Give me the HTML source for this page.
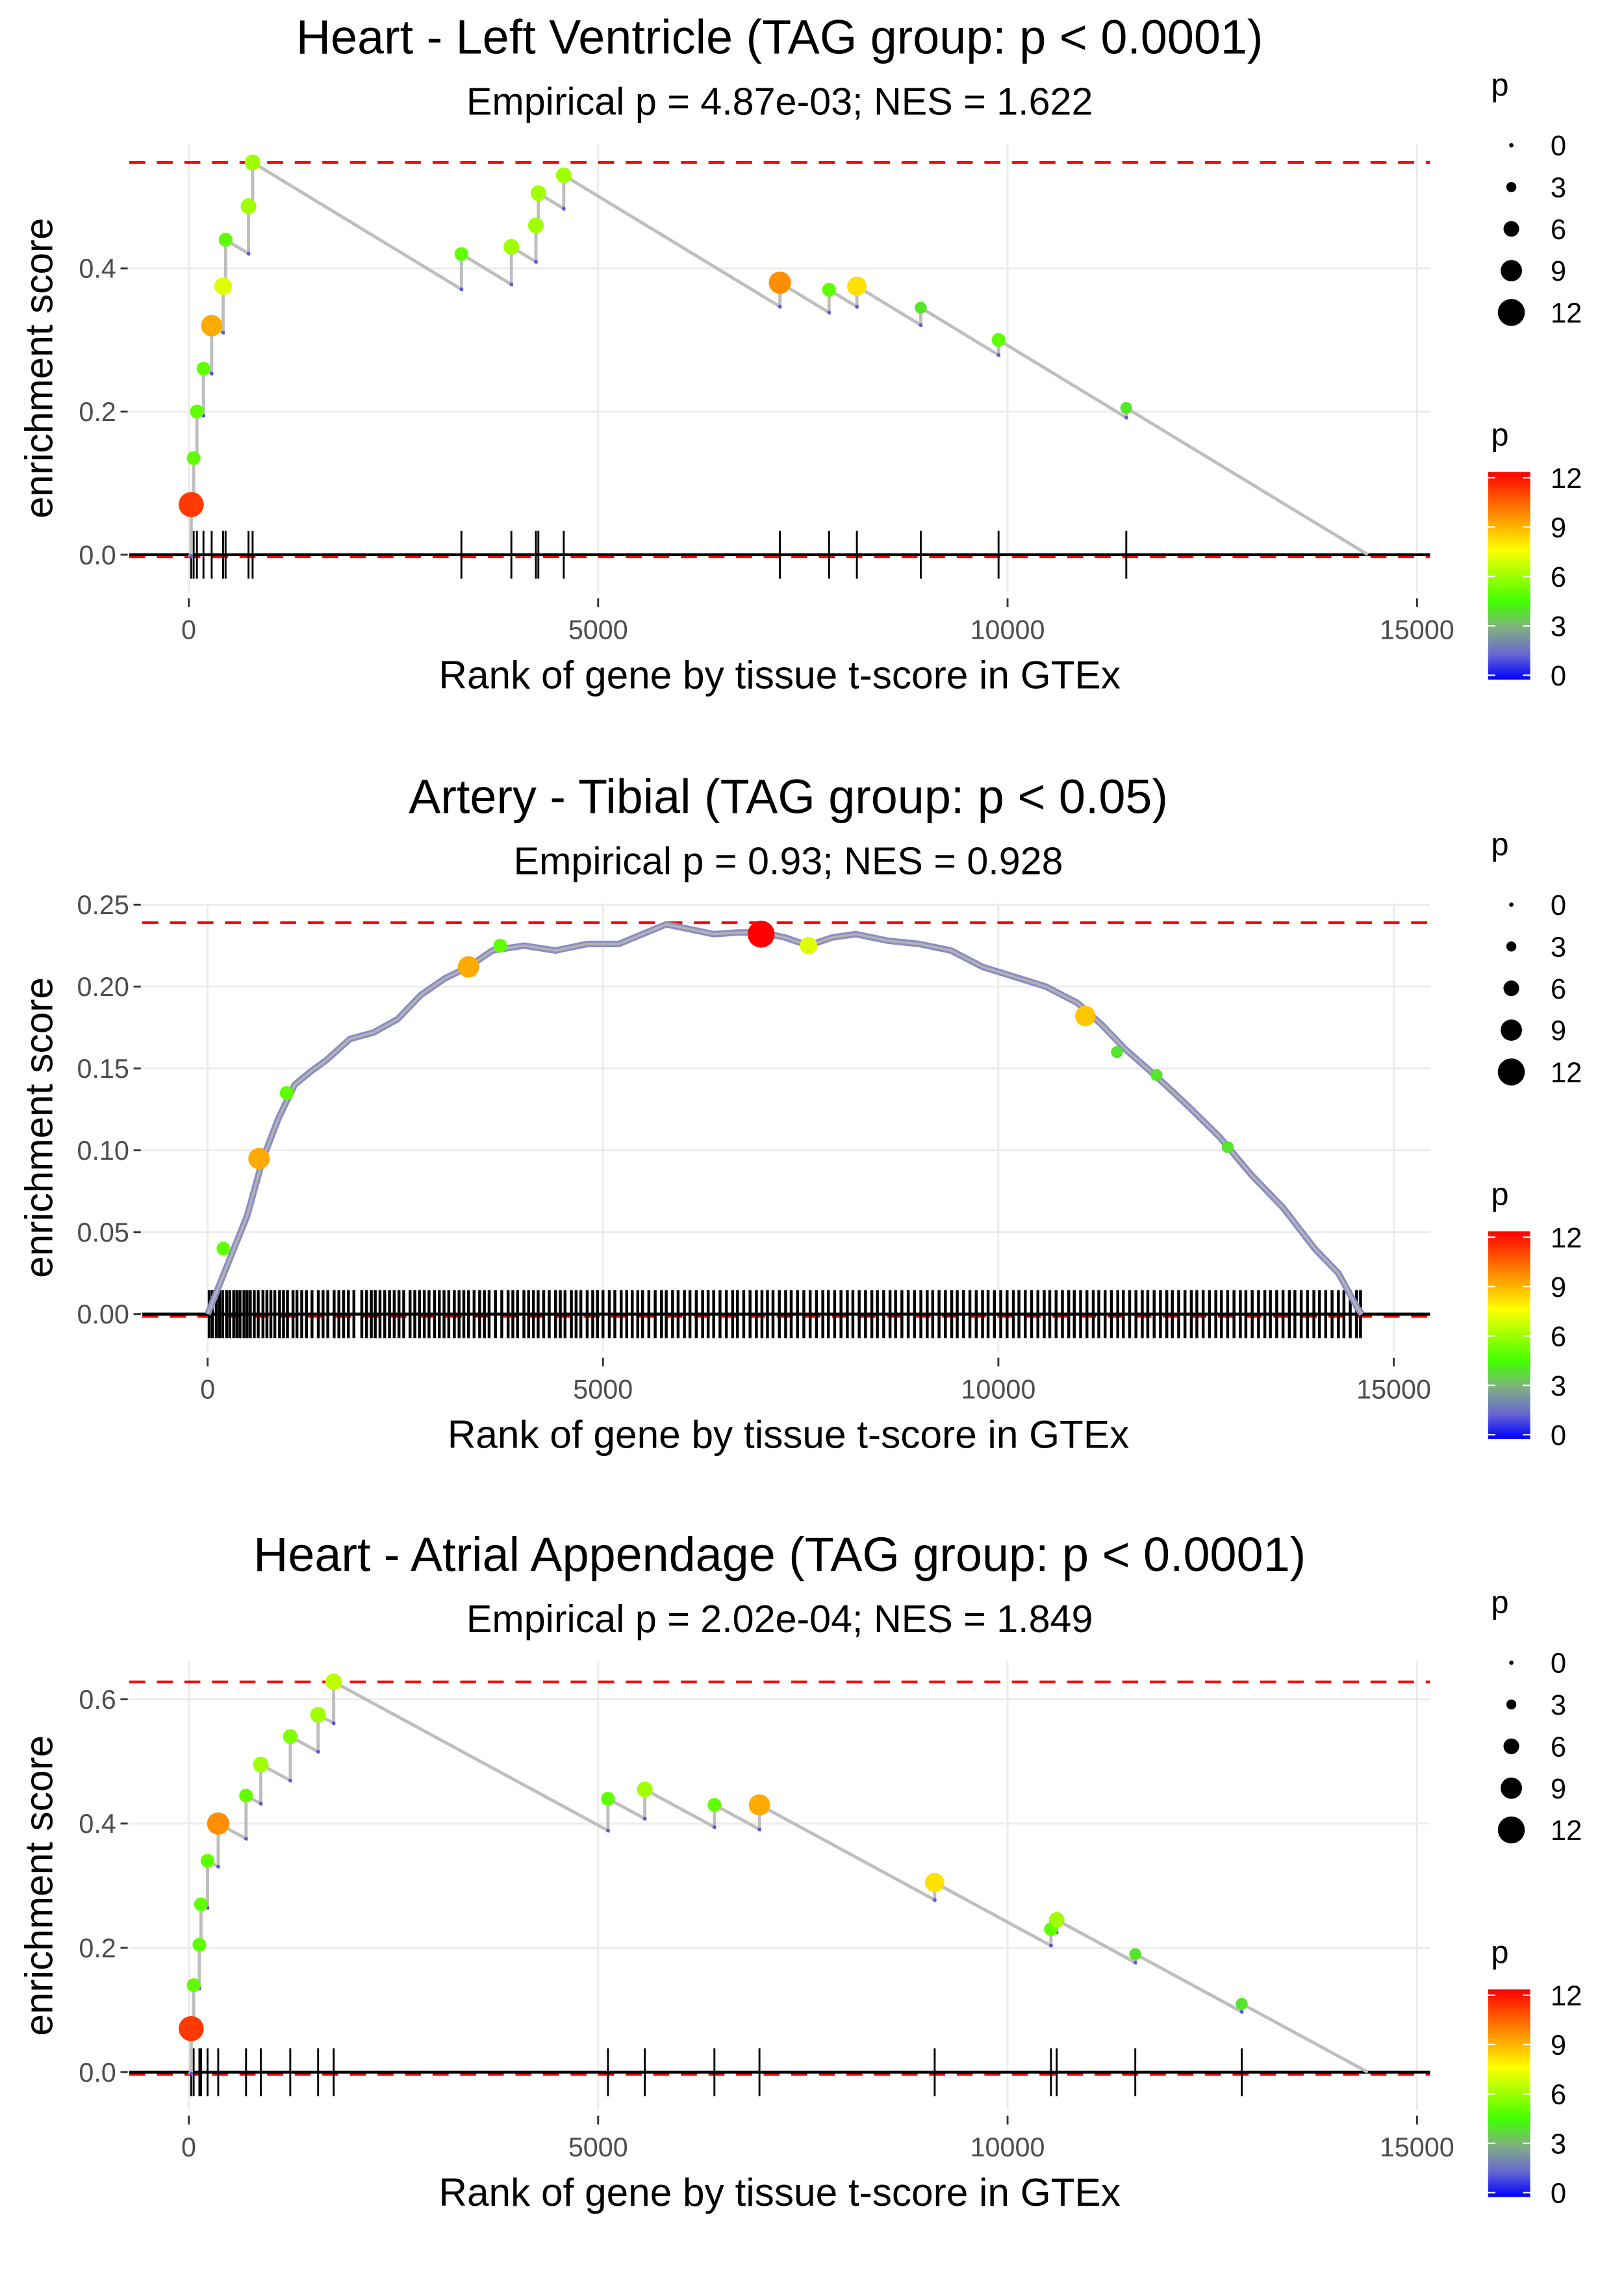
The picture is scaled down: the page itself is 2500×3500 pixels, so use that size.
<!DOCTYPE html>
<html><head><meta charset="utf-8"><style>
html,body{margin:0;padding:0;background:#fff;}
svg{display:block;font-family:"Liberation Sans",Arial,sans-serif;}
</style></head><body>
<svg id="root" width="2500" height="3500" viewBox="0 0 1118.6 1566" preserveAspectRatio="none" xmlns="http://www.w3.org/2000/svg">
<defs>
<linearGradient id="pgrad" x1="0" y1="1" x2="0" y2="0">
<stop offset="0" stop-color="#0000ff"/><stop offset="0.125" stop-color="#6a6ad0"/><stop offset="0.25" stop-color="#80b080"/>
<stop offset="0.375" stop-color="#40ff00"/><stop offset="0.5" stop-color="#a0ff00"/><stop offset="0.625" stop-color="#ffff00"/>
<stop offset="0.75" stop-color="#ffaa00"/><stop offset="1" stop-color="#ff0000"/>
</linearGradient>
</defs>
</svg>
<script>
// ---- Panel 1 data: Heart - Left Ventricle ----
const p1Ranks=[30,60,100,180,280,420,450,730,780,3330,3940,4240,4270,4580,7220,7820,8160,8940,9890,11450];
const p1ES=[0.07,0.135,0.2,0.26,0.32,0.375,0.44,0.487,0.548,0.42,0.43,0.46,0.505,0.53,0.38,0.37,0.375,0.345,0.3,0.205];
const p1P=[11,5,5,5,9,7,5,6,6,5,6,6,6,6,9.5,5,8,4,5,4];
const p1End=14400;
const p1Max=[0.548];
const p1YTicks=[0,0.2,0.4];
// ---- Panel 2 data: Artery - Tibial ----
const p2CurveRanks=[0,250,500,700,900,1100,1300,1500,1800,2100,2400,2700,3000,3300,3600,4000,4400,4800,5200,5500,5800,6100,6400,6700,7000,7300,7600,7900,8200,8600,9000,9400,9800,10200,10600,11000,11300,11600,12000,12400,12800,13200,13600,14000,14300,14550,14600];
const p2CurveES=[0,0.03,0.06,0.095,0.12,0.14,0.148,0.155,0.168,0.172,0.18,0.195,0.205,0.212,0.222,0.225,0.222,0.226,0.226,0.232,0.238,0.235,0.232,0.233,0.233,0.23,0.225,0.23,0.232,0.228,0.226,0.222,0.212,0.206,0.2,0.19,0.177,0.162,0.145,0.127,0.108,0.085,0.065,0.04,0.025,0.003,0];
const p2HitRanks=[200,650,1000,3300,3700,7000,7600,11100,11500,12000,12900];
const p2HitES=[0.04,0.095,0.135,0.212,0.225,0.232,0.225,0.182,0.16,0.146,0.102];
const p2HitP=[5,9,5,9,5,12,7,8.5,4,4,4];
const p2Rug=[20,60,110,150,190,240,280,330,370,410,460,500,540,590,640,700,750,800,850,910,960,1010,1080,1130,1190,1250,1320,1400,1460,1520,1600,1660,1720,1780,1850,1950,2010,2070,2120,2180,2240,2300,2360,2420,2480,2560,2620,2680,2740,2800,2870,2930,2990,3050,3120,3180,3240,3300,3370,3440,3500,3560,3640,3720,3800,3860,3920,4000,4060,4120,4180,4250,4320,4400,4460,4520,4600,4660,4720,4800,4870,4930,5000,5080,5150,5230,5300,5370,5440,5500,5580,5660,5740,5800,5880,5950,6030,6100,6180,6260,6330,6400,6480,6560,6640,6700,6780,6860,6940,7010,7080,7150,7230,7310,7380,7460,7540,7620,7700,7780,7850,7930,8010,8090,8160,8240,8320,8400,8470,8550,8630,8700,8780,8860,8940,9020,9100,9170,9250,9330,9410,9480,9560,9640,9720,9800,9870,9950,10030,10110,10190,10260,10340,10420,10500,10580,10650,10730,10810,10890,10960,11040,11120,11200,11270,11350,11430,11510,11580,11660,11740,11820,11890,11970,12050,12130,12200,12280,12360,12440,12510,12590,12670,12750,12820,12900,12980,13060,13130,13210,13290,13370,13440,13520,13600,13680,13750,13830,13910,13990,14060,14140,14220,14300,14370,14450,14530,14580];
const p2Max=[0.239];
const p2YTicks=[0,0.05,0.1,0.15,0.2,0.25];
// ---- Panel 3 data: Heart - Atrial Appendage ----
const p3Ranks=[30,60,130,150,230,360,700,880,1240,1580,1770,5120,5570,6420,6970,9110,10530,10600,11560,12860];
const p3ES=[0.07,0.14,0.205,0.27,0.34,0.4,0.445,0.495,0.54,0.575,0.628,0.44,0.455,0.43,0.43,0.305,0.23,0.245,0.19,0.11];
const p3P=[11,5,5,5,5,9.5,5,6,5.5,6,6.5,5,6,5,9,8,5,6,4,4];
const p3End=14400;
const p3Max=[0.628];
const p3YTicks=[0,0.2,0.4,0.6];
const xTicks=[0,5000,10000,15000];
const legendSizes=[0,3,6,9,12];
const legendColorTicks=[0,3,6,9,12];

const NS='http://www.w3.org/2000/svg';
const root=document.getElementById('root');
function mk(tag,attrs,parent,text){const e=document.createElementNS(NS,tag);for(const k in attrs)e.setAttribute(k,attrs[k]);if(text!==undefined)e.textContent=text;(parent||root).appendChild(e);return e;}
function lerp(a,b,t){return a+(b-a)*t;}
const cStops=[[0,[0,0,255]],[1.5,[106,106,208]],[3,[128,176,128]],[4.5,[64,255,0]],[6,[160,255,0]],[7.5,[255,255,0]],[9,[255,170,0]],[12,[255,0,0]]];
function pColor(p){for(let i=1;i<cStops.length;i++){if(p<=cStops[i][0]){const a=cStops[i-1],b=cStops[i];const t=(p-a[0])/(b[0]-a[0]);return 'rgb('+a[1].map((v,j)=>Math.round(lerp(v,b[1][j],t))).join(',')+')';}}return 'rgb(255,0,0)';}
function pRad(p){return 1.5+0.65*p;}

function panel(cfg){
  const g=mk('g',{});
  
  
  const X=v=>cfg.x0+(cfg.x15-cfg.x0)*v/15000;
  const Y=v=>cfg.y0-cfg.ppu*v;
  cfg.yTicks.forEach(t=>{const l=mk('line',{x1:cfg.left,x2:985,y1:Y(t),y2:Y(t),stroke:'#ebebeb','stroke-width':1.3},g);
    const tk=mk('line',{x1:cfg.left-6,x2:cfg.left-1,y1:Y(t),y2:Y(t),stroke:'#333','stroke-width':1.3},g);
    const tx=mk('text',{x:cfg.left-9,y:Y(t)+6.5,'text-anchor':'end','font-size':18.5,fill:'#4d4d4d'},g,cfg.fmt(t));});
  xTicks.forEach(t=>{const l=mk('line',{x1:X(t),x2:X(t),y1:cfg.top,y2:cfg.bottom,stroke:'#ebebeb','stroke-width':1.3},g);
    const tk=mk('line',{x1:X(t),x2:X(t),y1:cfg.bottom+4,y2:cfg.bottom+10,stroke:'#333','stroke-width':1.3},g);
    const tx=mk('text',{x:X(t),y:cfg.bottom+32,'text-anchor':'middle','font-size':18.5,fill:'#4d4d4d'},g,String(t));});
  const d1=mk('line',{x1:cfg.left,x2:985,y1:Y(cfg.max[0]),y2:Y(cfg.max[0]),stroke:'#ff0000','stroke-width':1.8,'stroke-dasharray':'11 8'},g);
  const d0=mk('line',{x1:cfg.left,x2:985,y1:Y(0)+1.5,y2:Y(0)+1.5,stroke:'#ff0000','stroke-width':1.8,'stroke-dasharray':'11 8'},g);
  const z=mk('line',{x1:cfg.left,x2:985,y1:Y(0),y2:Y(0),stroke:'#000','stroke-width':2},g);
  cfg.rug.forEach(r=>{const l=mk('line',{x1:X(r),x2:X(r),y1:Y(0)-16.5,y2:Y(0)+16.5,stroke:'#000','stroke-width':cfg.rugW},g);});
  cfg.series(g,X,Y);
  const t1=mk('text',{x:cfg.cx,y:cfg.top-62,'text-anchor':'middle','font-size':33,fill:'#000'},g,cfg.title);
  const t2=mk('text',{x:cfg.cx,y:cfg.top-20,'text-anchor':'middle','font-size':26.5,fill:'#000'},g,cfg.sub);
  const xt=mk('text',{x:cfg.cx,y:cfg.bottom+66,'text-anchor':'middle','font-size':27,fill:'#000'},g,'Rank of gene by tissue t-score in GTEx');
  const cy=(cfg.top+cfg.bottom)/2;
  const yt=mk('text',{x:36,y:cy,'text-anchor':'middle','font-size':27,fill:'#000',transform:'rotate(-90 36 '+cy+')'},g,'enrichment score');
  const lo=cfg.top-99;
  const sp=mk('text',{x:1027,y:lo+66,'font-size':22,fill:'#000'},g,'p');
  legendSizes.forEach((s,i)=>{const yy=lo+100+i*28.8;const c=mk('circle',{cx:1041,cy:yy,r:pRad(s),fill:'#000'},g);
    const tx=mk('text',{x:1068,y:yy+7,'font-size':19.5,fill:'#000'},g,String(s));});
  const cp=mk('text',{x:1027,y:lo+307,'font-size':22,fill:'#000'},g,'p');
  const bar=mk('rect',{x:1025,y:lo+325,width:29,height:143,fill:'url(#pgrad)'},g);
  legendColorTicks.forEach(v=>{const yy=lo+465-v*(136/12);
    const a=mk('line',{x1:1025,x2:1030,y1:yy,y2:yy,stroke:'#fff','stroke-width':1},g);
    const b=mk('line',{x1:1049,x2:1054,y1:yy,y2:yy,stroke:'#fff','stroke-width':1},g);
    const tx=mk('text',{x:1068,y:yy+7,'font-size':19.5,fill:'#000'},g,String(v));});
}

function stepSeries(ranks,es,ps,end){
  return function(g,X,Y){
    const n=ranks.length;const decay=es[n-1]/(end-ranks[n-1]);
    let pts=[[0,0]];let prevR=0,prevE=0;const valleys=[];
    for(let i=0;i<n;i++){const v=prevE-decay*(ranks[i]-prevR);pts.push([ranks[i],v]);valleys.push([ranks[i],v]);pts.push([ranks[i],es[i]]);prevR=ranks[i];prevE=es[i];}
    pts.push([end,0]);
    const path=mk('path',{d:'M'+pts.map(p=>X(p[0]).toFixed(2)+','+Y(p[1]).toFixed(2)).join('L'),fill:'none',stroke:'#bebebe','stroke-width':2.2},g);
    
    valleys.forEach(v=>{const c=mk('circle',{cx:X(v[0]),cy:Y(v[1]),r:1.3,fill:'#5a5ad8'},g);});
    for(let i=0;i<n;i++){const c=mk('circle',{cx:X(ranks[i]),cy:Y(es[i]),r:pRad(ps[i]),fill:pColor(ps[i])},g);}
  };
}
function curveSeries(g,X,Y){
  const d='M'+p2CurveRanks.map((r,i)=>X(r).toFixed(2)+','+Y(p2CurveES[i]).toFixed(2)).join('L');
  const a=mk('path',{d:d,fill:'none',stroke:'#8c8cc4','stroke-width':4.5,'stroke-linejoin':'round'},g);
  const b=mk('path',{d:d,fill:'none',stroke:'#b4b4b4','stroke-width':1.6,'stroke-linejoin':'round'},g);
  p2HitRanks.forEach((r,i)=>{const c=mk('circle',{cx:X(r),cy:Y(p2HitES[i]),r:pRad(p2HitP[i]),fill:pColor(p2HitP[i])},g);});
}

panel({name:'panel-left-ventricle',title:'Heart - Left Ventricle (TAG group: p < 0.0001)',sub:'Empirical p = 4.87e-03; NES = 1.622',
  top:99,bottom:408,left:89,x0:130,x15:976,y0:382,ppu:493,cx:537,yTicks:p1YTicks,fmt:t=>t.toFixed(1),max:p1Max,rug:p1Ranks,rugW:1.3,
  series:stepSeries(p1Ranks,p1ES,p1P,p1End)});
panel({name:'panel-artery-tibial',title:'Artery - Tibial (TAG group: p < 0.05)',sub:'Empirical p = 0.93; NES = 0.928',
  top:622,bottom:931,left:98,x0:143,x15:960,y0:905,ppu:1128,cx:543,yTicks:p2YTicks,fmt:t=>t.toFixed(2),max:p2Max,rug:p2Rug,rugW:2,
  series:curveSeries});
panel({name:'panel-atrial-appendage',title:'Heart - Atrial Appendage (TAG group: p < 0.0001)',sub:'Empirical p = 2.02e-04; NES = 1.849',
  top:1144,bottom:1453,left:89,x0:130,x15:976,y0:1427,ppu:428,cx:537,yTicks:p3YTicks,fmt:t=>t.toFixed(1),max:p3Max,rug:p3Ranks,rugW:1.3,
  series:stepSeries(p3Ranks,p3ES,p3P,p3End)});
</script>
</body></html>
